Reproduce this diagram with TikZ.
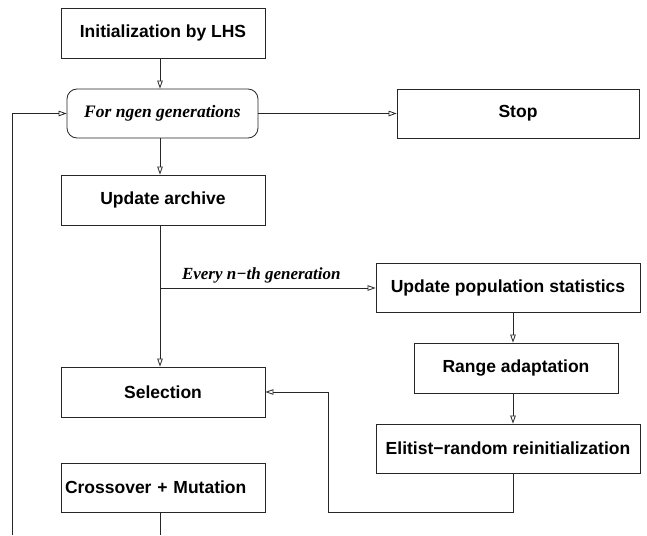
\documentclass[tikz,border=0pt]{standalone}
\usepackage{fontspec}
\setmainfont{Liberation Sans}
\newfontfamily\tfont{Liberation Serif}
\usetikzlibrary{arrows.meta,calc}
\tikzset{
  box/.style={draw=black!85,line width=0.8pt,minimum height=49pt,inner sep=0pt,font=\fontsize{17.5}{21}\selectfont\bfseries},
  rbox/.style={box,rounded corners=10pt,font=\fontsize{17.5}{21}\selectfont\tfont\bfseries\itshape},
  conn/.style={draw=black!85,line width=0.8pt},
  arr/.style={conn,-{Triangle[open,length=8pt,width=5.5pt]}},
}
\begin{document}
\begin{tikzpicture}[x=1pt,y=-1pt]
\useasboundingbox (0,0) rectangle (647,535);
\node[box,minimum width=204pt,minimum height=50pt] (init) at (163,33) {Initialization by LHS};
\node[rbox,minimum width=191pt] (loop) at (162.5,113.5) {For ngen generations};
\node[box,minimum width=242pt] (stop) at (518,113.5) {Stop};
\node[box,minimum width=204pt,minimum height=50pt] (arch) at (163,200) {Update archive};
\node[box,minimum width=264pt] (stats) at (508,287.5) {Update population statistics};
\node[box,minimum width=204pt,minimum height=50pt] (range) at (516,368) {Range adaptation};
\node[box,minimum width=204pt,minimum height=50pt] (sel) at (163,392) {Selection};
\node[box,minimum width=204pt,text width=196pt,align=left] (cross) at (163,487.5) {Crossover + Mutation};
\node[box,minimum width=264pt] (elit) at (508,448.5) {Elitist−random reinitialization};
\coordinate (vx) at (160,0);
\coordinate (rx) at (513,0);
\coordinate (br) at (160,288);
\coordinate (fb1) at (513,512);
\coordinate (fb2) at (328,512);
\coordinate (fb3) at (328,392);
\coordinate (lp1) at (12,535);
\coordinate (lp2) at (12,113.5);
\coordinate (cb) at (160,535);
\draw[arr] (init.south -| vx) -- (loop.north -| vx);
\draw[arr] (loop.east) -- (stop.west);
\draw[arr] (loop.south -| vx) -- (arch.north -| vx);
\draw[arr] (arch.south -| vx) -- (sel.north -| vx);
\draw[arr] (br) -- node[above=1pt,pos=0.47,font=\fontsize{17}{20}\selectfont\tfont\bfseries\itshape]{Every n−th generation} (br -| stats.west);
\draw[arr] (stats.south -| rx) -- (range.north -| rx);
\draw[arr] (range.south -| rx) -- (elit.north -| rx);
\draw[arr] (elit.south -| rx) -- (fb1) -- (fb2) -- (fb3) -- (sel.east);
\draw[arr] (lp1) -- (lp2) -- (loop.west);
\draw[conn] (cross.south -| vx) -- (cb);
\end{tikzpicture}
\end{document}
